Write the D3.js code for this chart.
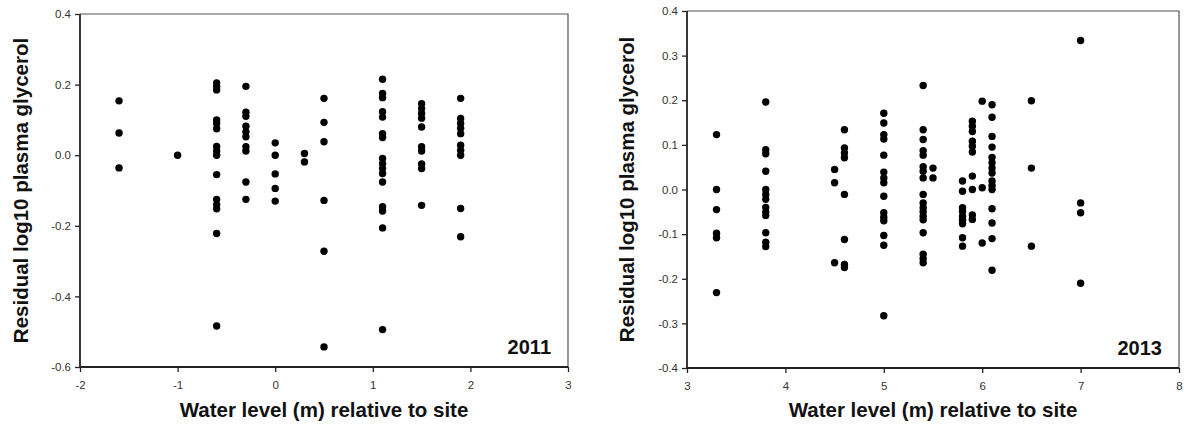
<!DOCTYPE html>
<html>
<head>
<meta charset="utf-8">
<script src="https://cdn.jsdelivr.net/npm/d3@7"></script>
<style>
  body { margin: 0; background: #fff; }
  svg { display: block; font-family: "Liberation Sans", Arial, sans-serif; }
  .axis-title { font-size: 20.5px; font-weight: bold; fill: #111; }
  .year { font-size: 20px; font-weight: bold; fill: #111; }
</style>
</head>
<body>
<svg id="chart" width="1184" height="433"></svg>
<script>
// --- 2011 panel: water level -> residuals at that level
const levels2011 = [-1.6, -1.0, -0.6, -0.3, 0.0, 0.3, 0.5, 1.1, 1.5, 1.9];
const resid2011 = [
  [0.154, 0.063, -0.036],
  [0.0],
  [0.205, 0.195, 0.185, 0.10, 0.09, 0.075, 0.025, 0.012, 0.0, -0.055, -0.125, -0.14, -0.152, -0.222, -0.484],
  [0.195, 0.122, 0.11, 0.082, 0.066, 0.052, 0.024, 0.012, -0.076, -0.125],
  [0.035, 0.0, -0.053, -0.094, -0.13],
  [0.005, -0.019],
  [0.161, 0.093, 0.038, -0.128, -0.272, -0.543],
  [0.215, 0.175, 0.163, 0.123, 0.108, 0.061, 0.05, -0.009, -0.024, -0.038, -0.052, -0.076, -0.146, -0.158, -0.206, -0.494],
  [0.146, 0.132, 0.118, 0.105, 0.08, 0.024, 0.012, -0.025, -0.038, -0.142],
  [0.161, 0.104, 0.09, 0.076, 0.061, 0.028, 0.014, 0.0, -0.151, -0.231]
];

// --- 2013 panel
const levels2013 = [3.3, 3.8, 4.5, 4.6, 5.0, 5.4, 5.5, 5.8, 5.9, 6.0, 6.1, 6.5, 7.0];
const resid2013 = [
  [0.123, 0.0, -0.045, -0.098, -0.108, -0.231],
  [0.196, 0.089, 0.08, 0.041, 0.0, -0.011, -0.022, -0.04, -0.05, -0.058, -0.097, -0.118, -0.128],
  [0.045, 0.015, -0.164],
  [0.134, 0.093, 0.082, 0.071, -0.011, -0.112, -0.168, -0.175],
  [0.171, 0.149, 0.123, 0.113, 0.077, 0.039, 0.026, 0.015, -0.015, -0.052, -0.062, -0.07, -0.103, -0.125, -0.283],
  [0.233, 0.134, 0.112, 0.087, 0.077, 0.051, 0.041, 0.026, -0.011, -0.03, -0.041, -0.05, -0.06, -0.068, -0.097, -0.145, -0.155, -0.164],
  [0.048, 0.026],
  [0.019, -0.004, -0.041, -0.049, -0.06, -0.069, -0.077, -0.108, -0.127],
  [0.153, 0.142, 0.13, 0.108, 0.097, 0.084, 0.03, 0.0, -0.057, -0.067],
  [0.198, 0.004, -0.12],
  [0.19, 0.162, 0.119, 0.095, 0.072, 0.06, 0.048, 0.037, 0.019, 0.009, 0.0, -0.043, -0.075, -0.11, -0.181],
  [0.199, 0.048, -0.127],
  [0.334, -0.03, -0.052, -0.21]
];

const xTicks2011 = [-2, -1, 0, 1, 2, 3];
const yTicks2011 = [-0.6, -0.4, -0.2, 0.0, 0.2, 0.4];
const xTicks2013 = [3, 4, 5, 6, 7, 8];
const yTicks2013 = [-0.4, -0.3, -0.2, -0.1, 0.0, 0.1, 0.2, 0.3, 0.4];

const Y_TITLE = "Residual log10 plasma glycerol";
const X_TITLE = "Water level (m) relative to site";

const svg = d3.select("#chart");

// plain hyphen for negatives, like the original
const hyph = f => d => f(d).replace("\u2212", "-");

function toPoints(levels, resid) {
  return levels.flatMap((lv, i) => resid[i].map(v => ({ x: lv, y: v })));
}

function drawPanel(opt) {
  const { left, top, right, bottom } = opt.box;
  const x = d3.scaleLinear().domain(d3.extent(opt.xTicks)).range([left, right]);
  const y = d3.scaleLinear().domain(d3.extent(opt.yTicks)).range([bottom, top]);

  const g = svg.append("g");

  // thin frame on top / right
  g.append("path")
   .attr("d", `M${left},${top}H${right}V${bottom}`)
   .attr("fill", "none")
   .attr("stroke", "#555")
   .attr("stroke-width", 1.2);

  const xAxis = g.append("g")
    .attr("transform", `translate(0,${bottom})`)
    .call(d3.axisBottom(x).tickValues(opt.xTicks).tickFormat(hyph(d3.format("d")))
      .tickSize(5).tickPadding(9));
  const yAxis = g.append("g")
    .attr("transform", `translate(${left},0)`)
    .call(d3.axisLeft(y).tickValues(opt.yTicks).tickFormat(hyph(d3.format(".1f")))
      .tickSize(5).tickPadding(4));

  [xAxis, yAxis].forEach(a => {
    a.select(".domain").attr("stroke", "#222").attr("stroke-width", 1.8);
    a.selectAll(".tick line").attr("stroke", "#222").attr("stroke-width", 1.3);
    a.selectAll(".tick text").attr("font-family", "Liberation Sans, Arial, sans-serif")
      .attr("font-size", 11.5).attr("fill", "#333");
  });
  yAxis.select(".domain").attr("d", `M0,${bottom}V${top}`);
  xAxis.select(".domain").attr("d", `M${left},0H${right}`);

  g.append("g")
    .selectAll("circle")
    .data(toPoints(opt.levels, opt.resid))
    .enter().append("circle")
      .attr("cx", d => x(d.x))
      .attr("cy", d => y(d.y))
      .attr("r", 3.7)
      .attr("fill", "#000");

  g.append("text")
   .attr("class", "axis-title")
   .attr("transform", `translate(${opt.yTitleX},${(top + bottom) / 2}) rotate(-90)`)
   .attr("text-anchor", "middle")
   .text(Y_TITLE);

  g.append("text")
   .attr("class", "axis-title")
   .attr("x", (left + right) / 2)
   .attr("y", 417)
   .attr("text-anchor", "middle")
   .text(X_TITLE);

  g.append("text")
   .attr("class", "year")
   .attr("x", right - 17)
   .attr("y", bottom - 13)
   .attr("text-anchor", "end")
   .text(opt.year);
}

drawPanel({
  box: { left: 80, top: 14, right: 568, bottom: 367 },
  xTicks: xTicks2011, yTicks: yTicks2011,
  levels: levels2011, resid: resid2011,
  yTitleX: 28, year: "2011"
});

drawPanel({
  box: { left: 687, top: 11, right: 1179, bottom: 368 },
  xTicks: xTicks2013, yTicks: yTicks2013,
  levels: levels2013, resid: resid2013,
  yTitleX: 634, year: "2013"
});
</script>
</body>
</html>
